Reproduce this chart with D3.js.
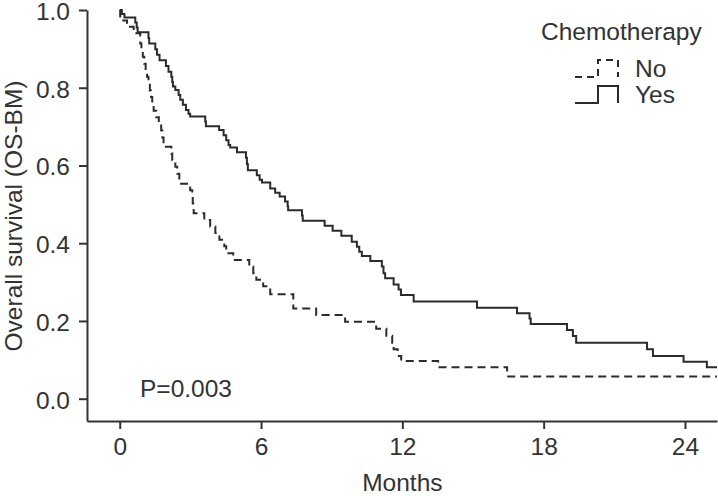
<!DOCTYPE html>
<html>
<head>
<meta charset="utf-8">
<script src="https://cdn.jsdelivr.net/npm/d3@7"></script>
<style>
  body { margin: 0; background: #fff; }
  #chart { width: 718px; height: 496px; }
  text { font-family: "Liberation Sans", Arial, sans-serif; fill: #333; }
</style>
</head>
<body>
<div id="chart"></div>
<script>
// step points (months, survival)
const noTimes = [0, 0.02, 0.31, 0.59, 0.87, 0.92, 0.98, 1.04, 1.10, 1.16, 1.22, 1.28, 1.33, 1.38, 1.44, 1.55, 1.66, 1.76, 1.81, 1.86,
  2.19, 2.23, 2.36, 2.44, 2.53, 2.99, 3.08, 3.10, 3.12, 3.14, 3.59, 3.84, 4.06, 4.23, 4.44, 4.52, 4.82, 5.50, 5.67, 5.80, 6.09, 6.39,
  7.37, 8.34, 9.57, 10.89, 11.32, 11.57, 11.63, 11.80, 11.95, 13.52, 16.45];
const noSurv = [1.0, 0.973, 0.957, 0.94, 0.914, 0.897, 0.88, 0.862, 0.845, 0.828, 0.81, 0.793, 0.776, 0.759, 0.741, 0.724, 0.707, 0.69, 0.672, 0.648,
  0.631, 0.614, 0.597, 0.579, 0.553, 0.536, 0.519, 0.502, 0.49, 0.477, 0.46, 0.443, 0.426, 0.409, 0.392, 0.374, 0.357, 0.34, 0.323, 0.306, 0.289, 0.269,
  0.232, 0.215, 0.198, 0.180, 0.162, 0.144, 0.127, 0.11, 0.097, 0.081, 0.057];

const yesTimes = [0, 0.09, 0.2, 0.66, 0.72, 0.76, 1.22, 1.25, 1.51, 1.58, 1.69, 1.96, 2.07, 2.19, 2.23, 2.26, 2.36, 2.5, 2.57, 2.68, 2.81, 2.92, 2.99,
  3.63, 3.66, 4.22, 4.41, 4.52, 4.62, 4.69, 4.98, 5.36, 5.40, 5.44, 5.82, 5.94, 6.04, 6.39, 6.6, 6.79, 7.02, 7.13, 7.15, 7.74, 7.77,
  8.7, 9.04, 9.41, 9.85, 10.07, 10.17, 10.28, 10.64, 11.13, 11.2, 11.27, 11.63, 11.84, 11.94, 12.48, 15.17, 16.87, 17.4, 17.45,
  18.99, 19.24, 19.38, 22.39, 22.64, 23.94, 24.93];
const yesSurv = [1.0, 0.99, 0.981, 0.968, 0.955, 0.943, 0.928, 0.914, 0.899, 0.885, 0.871, 0.856, 0.841, 0.828, 0.815, 0.803, 0.794, 0.781, 0.769, 0.756, 0.743, 0.733, 0.726,
  0.713, 0.701, 0.691, 0.678, 0.665, 0.653, 0.646, 0.634, 0.62, 0.604, 0.588, 0.575, 0.563, 0.556, 0.541, 0.53, 0.52, 0.507, 0.495, 0.485, 0.471, 0.458,
  0.445, 0.432, 0.419, 0.404, 0.391, 0.378, 0.367, 0.354, 0.34, 0.323, 0.31, 0.294, 0.281, 0.267, 0.25, 0.234, 0.22, 0.206, 0.192,
  0.177, 0.161, 0.144, 0.127, 0.11, 0.095, 0.081];

const groups = ["No", "Yes"];
const xTicks = [0, 6, 12, 18, 24];
const yTicks = [0, 0.2, 0.4, 0.6, 0.8, 1.0];
const lastFollowUp = 25.36;
const fontSize = 24.5;

const svg = d3.select("#chart").append("svg")
  .attr("width", 718)
  .attr("height", 496);

// scales (axis lines start a bit before 0 on both axes)
const x = d3.scaleLinear().domain([-1.39, lastFollowUp]).range([87, 717]);
const y = d3.scaleLinear().domain([-0.0574, 1]).range([421, 10]);

// axes
const xAxis = d3.axisBottom(x).tickValues(xTicks).tickSizeInner(8).tickSizeOuter(0).tickPadding(9);
const yAxis = d3.axisLeft(y).tickValues(yTicks).tickFormat(d3.format(".1f")).tickSizeInner(8).tickSizeOuter(0).tickPadding(9);

svg.append("g").attr("class", "axis")
  .attr("transform", "translate(0,421)")
  .call(xAxis);
svg.append("g").attr("class", "axis y")
  .attr("transform", "translate(87,0)")
  .call(yAxis);

svg.selectAll(".axis path, .axis line").attr("stroke", "#333").attr("stroke-width", 2);
svg.selectAll(".axis text").attr("font-size", fontSize).attr("fill", "#333")
  .attr("font-family", "'Liberation Sans', Arial, sans-serif");
// labels sit a hair below their ticks in the original
svg.selectAll(".axis.y text").attr("dy", "0.38em");

// axis titles
svg.append("text")
  .attr("x", x(12)).attr("y", 491)
  .attr("text-anchor", "middle").attr("font-size", fontSize)
  .text("Months");
svg.append("text")
  .attr("transform", `translate(22, ${ y(0.47) }) rotate(-90)`)
  .attr("text-anchor", "middle").attr("font-size", fontSize)
  .text("Overall survival (OS-BM)");

// curves
const line = d3.line()
  .x(d => x(d[0]))
  .y(d => y(d[1]))
  .curve(d3.curveStepAfter);

const series = [
  { name: groups[0], pts: noTimes.map((t, i) => [t, noSurv[i]]), dash: "8,5" },
  { name: groups[1], pts: yesTimes.map((t, i) => [t, yesSurv[i]]), dash: null }
];
series.forEach(s => s.pts.push([lastFollowUp, s.pts[s.pts.length - 1][1]]));

svg.selectAll(".km")
  .data(series)
  .enter().append("path")
    .attr("class", "km")
    .attr("d", d => line(d.pts))
    .attr("fill", "none")
    .attr("stroke", "#2b2b2b")
    .attr("stroke-width", 2)
    .attr("stroke-dasharray", d => d.dash);

// p value
svg.append("text")
  .attr("x", 140).attr("y", 397)
  .attr("font-size", fontSize)
  .text("P=0.003");

// legend
const legend = svg.append("g").attr("transform", "translate(541, 40)");
legend.append("text").attr("x", 0).attr("y", 0).attr("font-size", fontSize).text("Chemotherapy");

const item = legend.selectAll(".item")
  .data(series)
  .enter().append("g")
    .attr("class", "item")
    .attr("transform", (d, i) => `translate(34, ${ 37 + i * 26 })`);

item.append("path")
  .attr("d", "M0,0H23V-17H43V0")
  .attr("fill", "none")
  .attr("stroke", "#2b2b2b")
  .attr("stroke-width", 2)
  .attr("stroke-dasharray", d => d.dash ? "7,5" : null);

item.append("text")
  .attr("x", 60).attr("y", 0)
  .attr("font-size", fontSize)
  .text(d => d.name);
</script>
</body>
</html>
